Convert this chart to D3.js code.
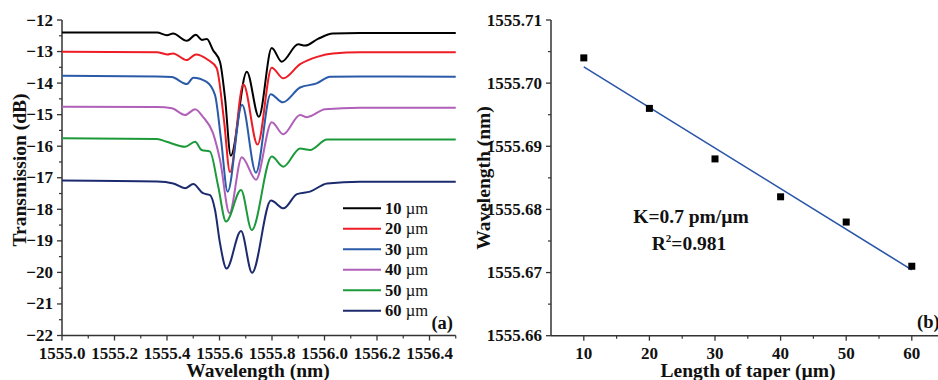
<!DOCTYPE html>
<html>
<head>
<meta charset="utf-8">
<script src="https://cdn.jsdelivr.net/npm/d3@7"></script>
<style>
  body { margin: 0; background: #fff; }
  svg text { font-family: "Liberation Serif", "Times New Roman", serif; font-weight: bold; fill: #111; }
</style>
</head>
<body>
<div id="chart"></div>
<script>
// ---- data (a): transmission spectra, [wavelength nm, dB]
var taper10 = [[1555.000,-12.40],[1555.362,-12.40],[1555.400,-12.48],[1555.423,-12.43],[1555.476,-12.66],[1555.510,-12.47],[1555.533,-12.63],[1555.552,-12.60],[1555.575,-12.95],[1555.602,-13.33],[1555.621,-14.47],[1555.643,-16.30],[1555.704,-13.64],[1555.750,-15.07],[1555.799,-12.89],[1555.837,-13.32],[1555.900,-12.77],[1555.926,-12.81],[1555.975,-12.60],[1556.032,-12.43],[1556.135,-12.41],[1556.500,-12.41]];
var taper20 = [[1555.000,-13.01],[1555.362,-13.02],[1555.400,-13.09],[1555.423,-13.06],[1555.475,-13.27],[1555.510,-13.09],[1555.557,-13.27],[1555.589,-13.52],[1555.617,-15.17],[1555.640,-16.82],[1555.691,-14.04],[1555.745,-15.95],[1555.799,-13.51],[1555.843,-13.85],[1555.907,-13.40],[1555.975,-13.16],[1556.032,-13.06],[1556.135,-13.02],[1556.500,-13.02]];
var taper30 = [[1555.000,-13.77],[1555.362,-13.79],[1555.418,-13.81],[1555.476,-14.03],[1555.500,-13.83],[1555.551,-13.96],[1555.583,-14.38],[1555.606,-15.80],[1555.631,-17.44],[1555.686,-14.69],[1555.739,-16.84],[1555.795,-14.35],[1555.841,-14.61],[1555.907,-14.14],[1555.970,-14.01],[1556.021,-13.80],[1556.135,-13.79],[1556.500,-13.80]];
var taper40 = [[1555.000,-14.75],[1555.362,-14.76],[1555.419,-14.80],[1555.469,-15.01],[1555.507,-14.83],[1555.537,-15.07],[1555.575,-15.58],[1555.602,-16.44],[1555.638,-18.12],[1555.685,-16.35],[1555.739,-17.06],[1555.799,-15.24],[1555.843,-15.62],[1555.907,-15.01],[1555.933,-15.08],[1556.002,-14.83],[1556.135,-14.78],[1556.500,-14.78]];
var taper50 = [[1555.000,-15.75],[1555.362,-15.77],[1555.399,-15.86],[1555.469,-16.02],[1555.507,-15.86],[1555.532,-16.12],[1555.564,-16.17],[1555.594,-17.23],[1555.625,-18.39],[1555.682,-17.39],[1555.723,-18.66],[1555.799,-16.33],[1555.843,-16.65],[1555.907,-16.07],[1555.945,-16.12],[1556.010,-15.79],[1556.135,-15.79],[1556.500,-15.79]];
var taper60 = [[1555.000,-17.09],[1555.362,-17.12],[1555.424,-17.18],[1555.469,-17.33],[1555.500,-17.20],[1555.537,-17.49],[1555.564,-17.55],[1555.583,-18.02],[1555.602,-19.08],[1555.627,-19.88],[1555.682,-18.69],[1555.724,-20.01],[1555.796,-17.72],[1555.844,-17.97],[1555.895,-17.52],[1555.945,-17.44],[1556.010,-17.18],[1556.135,-17.13],[1556.500,-17.13]];
var seriesNames = ["10 µm","20 µm","30 µm","40 µm","50 µm","60 µm"];
var seriesColors = ["#000000","#ee1c25","#2b5ba8","#b060b8","#1c9a3a","#1c2a6e"];
var xTicksA = [1555.0,1555.2,1555.4,1555.6,1555.8,1556.0,1556.2,1556.4];
var yTicksA = [-12,-13,-14,-15,-16,-17,-18,-19,-20,-21,-22];

// ---- data (b): resonance wavelength vs taper length
var taperLength = [10,20,30,40,50,60];
var dipWavelength = [1555.704,1555.696,1555.688,1555.682,1555.678,1555.671];
var xTicksB = [10,20,30,40,50,60];
var yTicksB = [1555.66,1555.67,1555.68,1555.69,1555.70,1555.71];

var W = 938, H = 380;
var svg = d3.select("#chart").append("svg").attr("width", W).attr("height", H);

// Origin-style axes: outward ticks, minor ticks, no frame on top/right
// (y range must be given bottom-first)
function drawAxes(g, x, y, xt, yt, xMinor, yMinor, xFmt, yFmt){
    var x0 = x.range()[0], x1 = x.range()[1], y0 = y.range()[0], y1 = y.range()[1];
    g.append("line").attr("x1",x0).attr("x2",x0).attr("y1",y0).attr("y2",y1).attr("stroke","#333").attr("stroke-width",1.5);
    g.append("line").attr("x1",x0).attr("x2",x1).attr("y1",y0).attr("y2",y0).attr("stroke","#333").attr("stroke-width",1.5);
    g.selectAll(".xmaj").data(xt).enter().append("line")
        .attr("x1",function(d){return x(d);}).attr("x2",function(d){return x(d);})
        .attr("y1",y0).attr("y2",y0+5).attr("stroke","#333").attr("stroke-width",1.3);
    g.selectAll(".xmin").data(xMinor).enter().append("line")
        .attr("x1",function(d){return x(d);}).attr("x2",function(d){return x(d);})
        .attr("y1",y0).attr("y2",y0+3).attr("stroke","#333").attr("stroke-width",1.2);
    g.selectAll(".ymaj").data(yt).enter().append("line")
        .attr("x1",x0-5).attr("x2",x0).attr("y1",function(d){return y(d);}).attr("y2",function(d){return y(d);})
        .attr("stroke","#333").attr("stroke-width",1.3);
    g.selectAll(".ymin").data(yMinor).enter().append("line")
        .attr("x1",x0-3).attr("x2",x0).attr("y1",function(d){return y(d);}).attr("y2",function(d){return y(d);})
        .attr("stroke","#333").attr("stroke-width",1.2);
    g.selectAll(".xlab").data(xt).enter().append("text")
        .attr("x",function(d){return x(d);}).attr("y",y0+23)
        .attr("text-anchor","middle").attr("font-size",17).text(xFmt);
    g.selectAll(".ylab").data(yt).enter().append("text")
        .attr("x",x0-9).attr("y",function(d){return y(d)+5.5;})
        .attr("text-anchor","end").attr("font-size",17).text(yFmt);
}

// ================= panel (a)
var xA = d3.scaleLinear().domain([1555.0,1556.5]).range([62,455.75]);
var yA = d3.scaleLinear().domain([-22,-12]).range([335.5,20]);
var gA = svg.append("g");

var xMinorA = d3.range(1555.1,1556.5,0.2);
var yMinorA = d3.range(-12.5,-22,-1);
drawAxes(gA, xA, yA, xTicksA, yTicksA, xMinorA, yMinorA, d3.format(".1f"), d3.format("d"));

var lineA = d3.line().x(function(d){return xA(d[0]);}).y(function(d){return yA(d[1]);}).curve(d3.curveMonotoneX);
var allSeries = [taper10,taper20,taper30,taper40,taper50,taper60];
gA.selectAll(".spec").data(allSeries).enter().append("path")
    .attr("d", lineA).attr("fill","none")
    .attr("stroke",function(d,i){return seriesColors[i];}).attr("stroke-width",2);

// legend
var leg = gA.append("g");
seriesNames.forEach(function(name,i){
    var yy = 208.3 + i*20.5;
    leg.append("line").attr("x1",343).attr("x2",381).attr("y1",yy).attr("y2",yy)
        .attr("stroke",seriesColors[i]).attr("stroke-width",1.9);
    var t = leg.append("text").attr("x",385).attr("y",yy+5.5).attr("font-size",16.5);
    t.append("tspan").text(name.split(" ")[0] + " ");
    t.append("tspan").attr("font-weight","normal").text(name.split(" ")[1]);
});
gA.append("text").attr("x",453).attr("y",329).attr("text-anchor","end").attr("font-size",18.5).text("(a)");
gA.append("text").attr("x",258).attr("y",377).attr("text-anchor","middle").attr("font-size",19.5).text("Wavelength (nm)");
gA.append("text").attr("transform","translate(26,170) rotate(-90)").attr("text-anchor","middle").attr("font-size",19.5).text("Transmission (dB)");

// ================= panel (b)
var xB = d3.scaleLinear().domain([5,65]).range([551,944.6]);
var yB = d3.scaleLinear().domain([1555.66,1555.71]).range([335.7,20]);
var gB = svg.append("g");
var xMinorB = d3.range(15,65,10);
var yMinorB = [1555.665,1555.675,1555.685,1555.695,1555.705];
drawAxes(gB, xB, yB, xTicksB, yTicksB, xMinorB, yMinorB, d3.format("d"), d3.format(".2f"));

// least squares fit
var mx = d3.mean(taperLength), my = d3.mean(dipWavelength);
var sxy = d3.sum(taperLength,function(d,i){return (d-mx)*(dipWavelength[i]-my);});
var sxx = d3.sum(taperLength,function(d){return (d-mx)*(d-mx);});
var slope = sxy/sxx, icept = my - slope*mx;
var fitX = [d3.min(taperLength), d3.max(taperLength)];
gB.append("path")
    .attr("d", d3.line().x(function(d){return xB(d);}).y(function(d){return yB(icept+slope*d);})(fitX))
    .attr("fill","none").attr("stroke","#2a56a8").attr("stroke-width",1.6);

gB.selectAll(".pt").data(taperLength).enter().append("rect")
    .attr("x",function(d){return xB(d)-3.5;}).attr("y",function(d,i){return yB(dipWavelength[i])-3.5;})
    .attr("width",7).attr("height",7).attr("fill","#000");

gB.append("text").attr("x",691).attr("y",223).attr("text-anchor","middle").attr("font-size",19.5).text("K=0.7 pm/µm");
var r2 = gB.append("text").attr("x",689).attr("y",250).attr("text-anchor","middle").attr("font-size",19.5);
r2.append("tspan").text("R");
r2.append("tspan").attr("font-size",11).attr("dy",-8).text("2");
r2.append("tspan").attr("dy",8).text("=0.981");
gB.append("text").attr("x",917).attr("y",328).attr("font-size",18.5).text("(b)");
gB.append("text").attr("x",748).attr("y",377).attr("text-anchor","middle").attr("font-size",19.5).text("Length of taper (µm)");
gB.append("text").attr("transform","translate(490,178) rotate(-90)").attr("text-anchor","middle").attr("font-size",19.5).text("Wavelength (nm)");
</script>
</body>
</html>
